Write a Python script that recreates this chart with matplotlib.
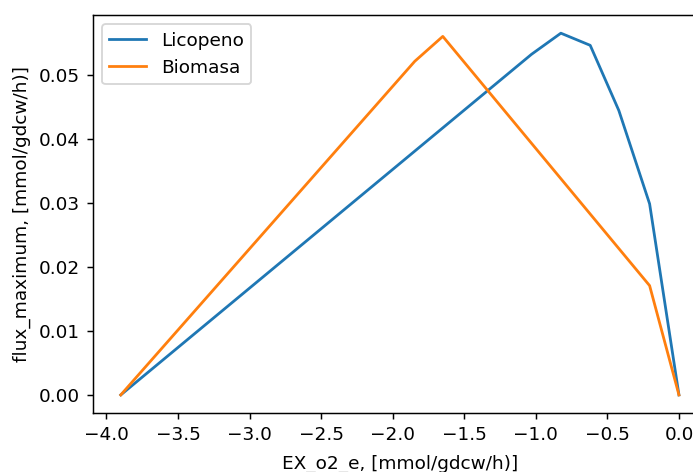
import matplotlib
matplotlib.use("Agg")
import matplotlib.pyplot as plt

lic_x = [-3.9, -1.03, -0.825, -0.62, -0.42, -0.205, 0.0]
lic_y = [0.0, 0.0533, 0.0566, 0.0547, 0.0445, 0.0299, 0.0]
bio_x = [-3.9, -1.846, -1.65, -0.205, 0.0]
bio_y = [0.0, 0.0522, 0.0561, 0.0171, 0.0]

dpi = 133
fig = plt.figure(figsize=(693 / dpi, 472 / dpi), dpi=dpi)
ax = fig.add_axes([0.134, 0.125, 0.886, 0.843])
ax.plot(lic_x, lic_y, label="Licopeno")
ax.plot(bio_x, bio_y, label="Biomasa")
ax.legend(loc="upper left")
ax.set_xlabel("EX_o2_e, [mmol/gdcw/h)]", labelpad=6)
ax.set_ylabel("flux_maximum, [mmol/gdcw/h)]")
fig.savefig("out.png", dpi=dpi)
